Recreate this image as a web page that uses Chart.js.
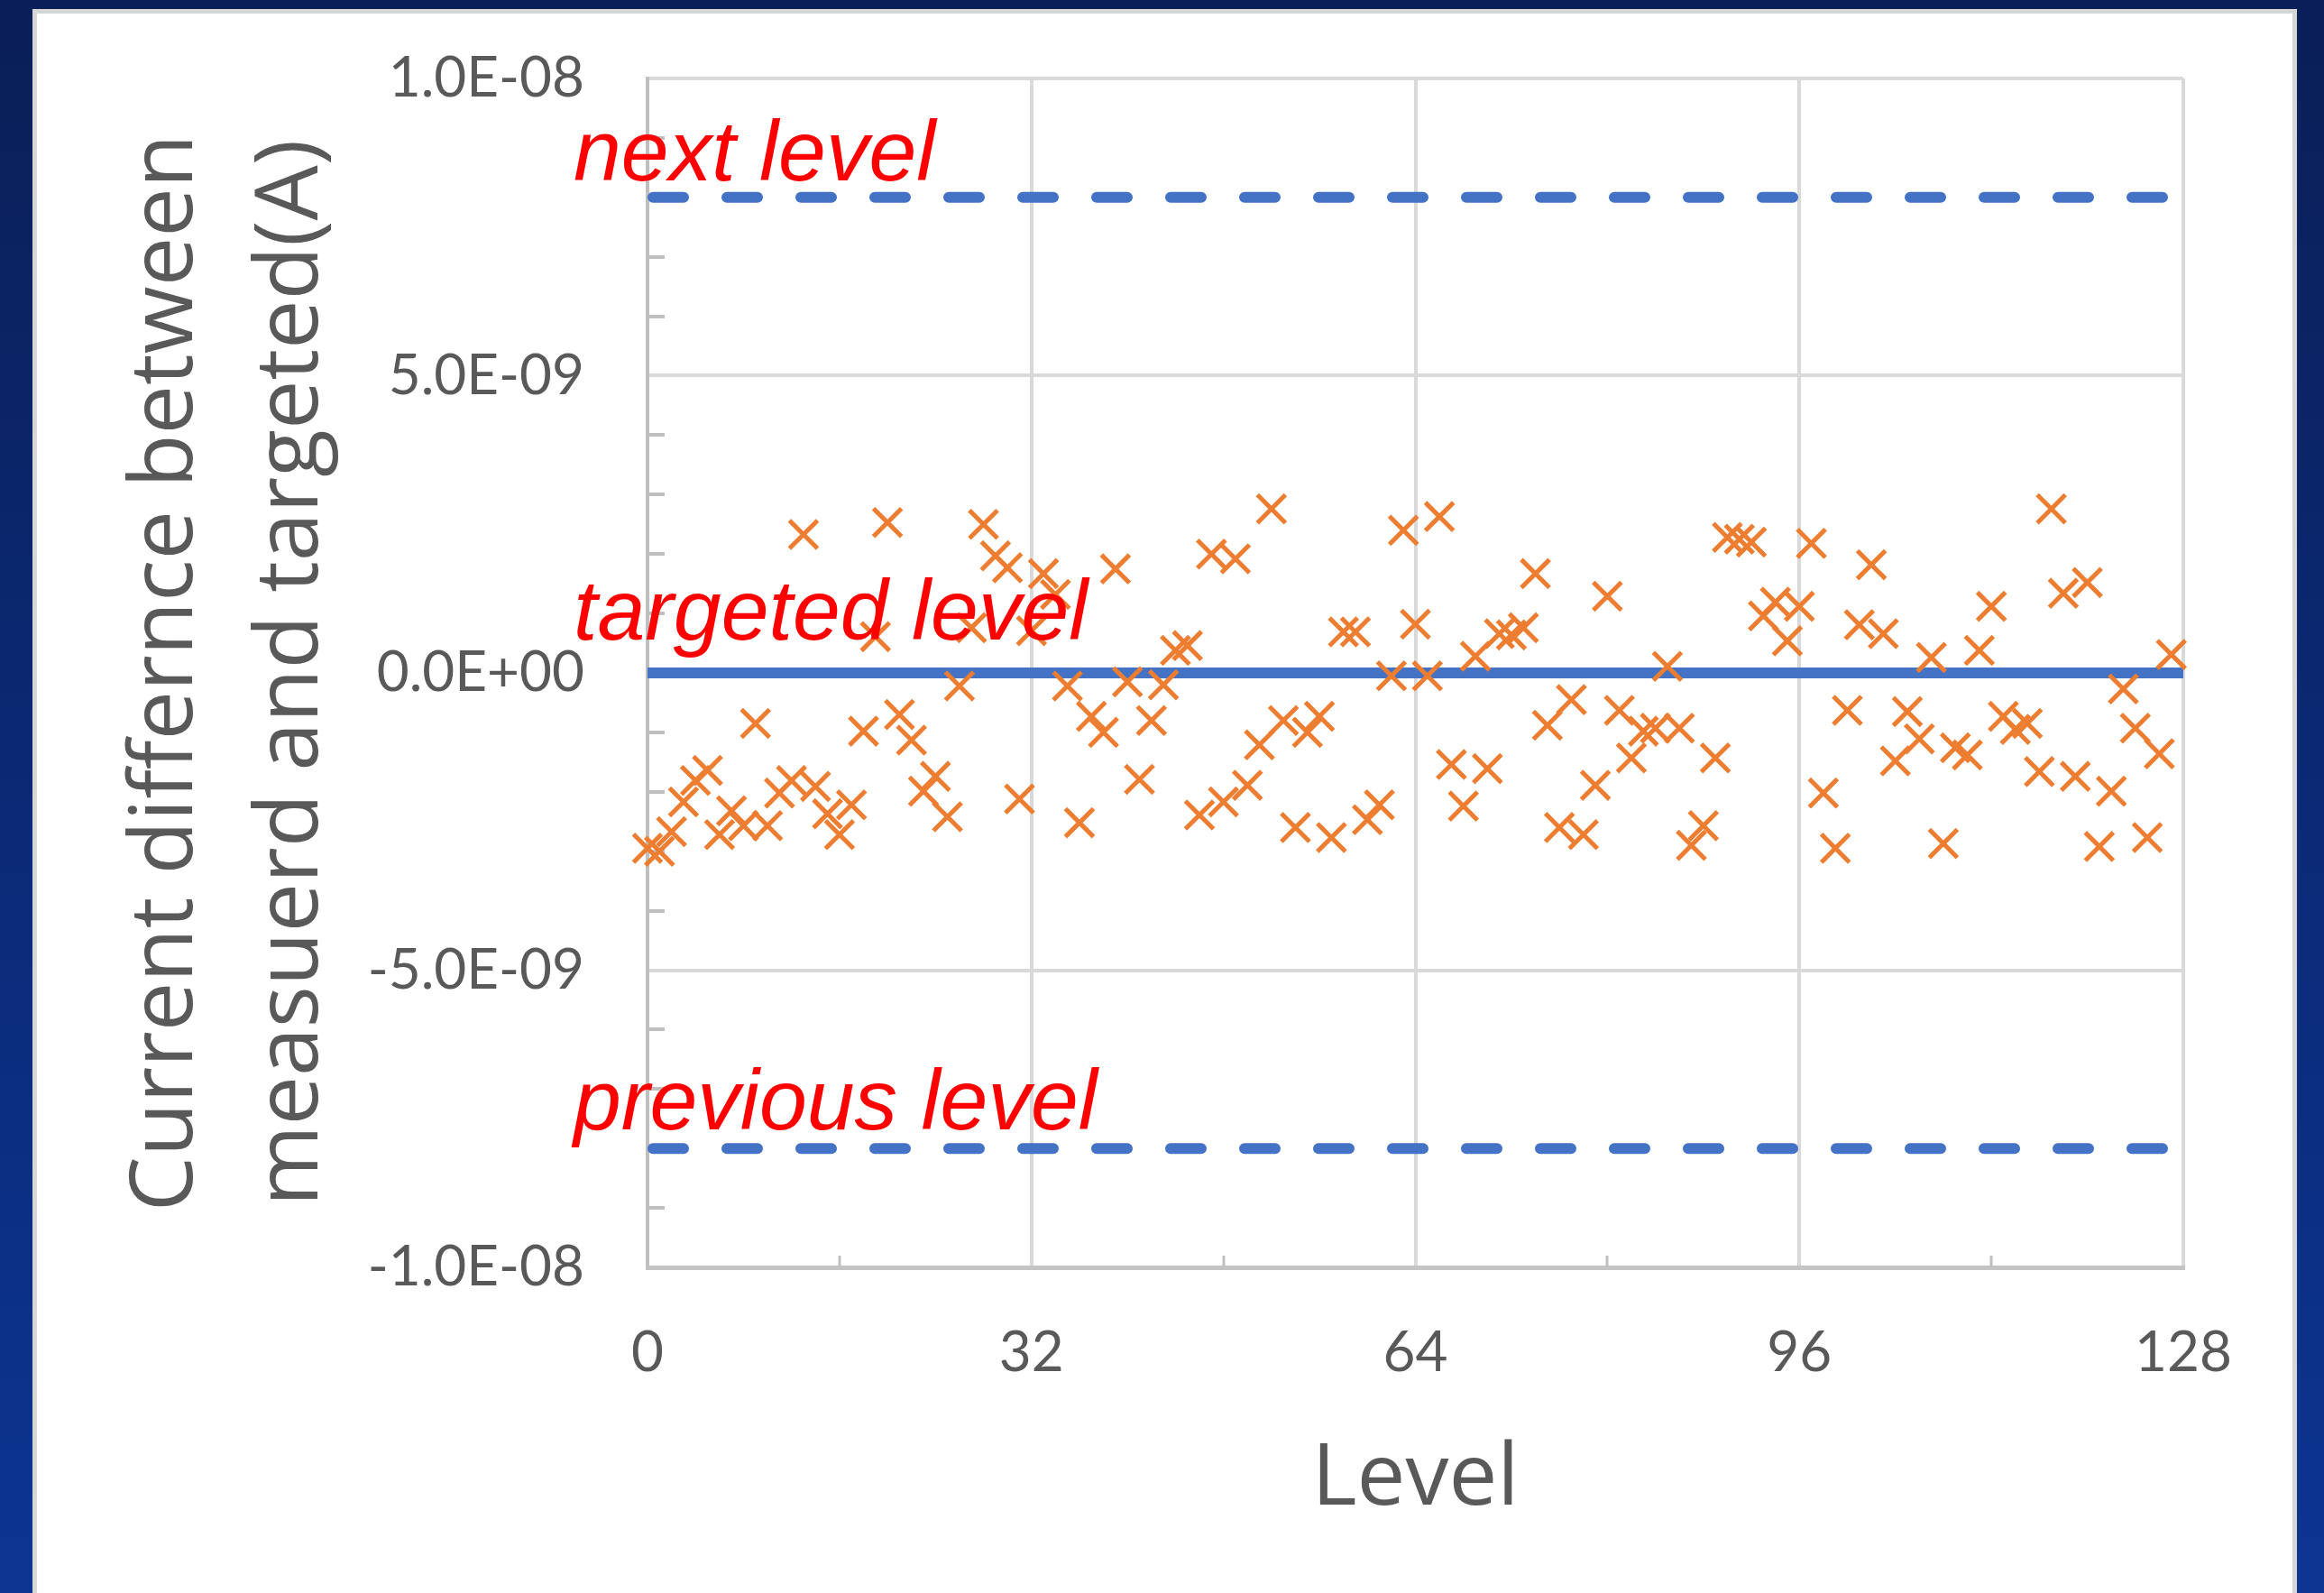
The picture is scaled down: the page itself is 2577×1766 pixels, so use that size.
<!DOCTYPE html>
<html>
<head>
<meta charset="utf-8">
<script src="https://cdn.jsdelivr.net/npm/chart.js@4.4.1/dist/chart.umd.min.js"></script>
<style>
  html, body { margin: 0; padding: 0; }
  body {
    width: 2577px; height: 1766px; overflow: hidden; position: relative;
    background: linear-gradient(180deg, #0a1f57 0%, #0b2a78 55%, #0c3592 100%);
  }
  #panel {
    position: absolute; left: 36px; top: 10px; width: 2511px; height: 1756px;
    background: #fff; box-sizing: border-box;
    border: 5px solid #d6d6d6; border-bottom: none;
  }
  #chart { position: absolute; left: 40px; top: 15px; }
</style>
</head>
<body>
<div id="panel"></div>
<canvas id="chart" width="2501" height="1751"></canvas>
<script>
// levels on the x axis
const levels = [
  0, 1, 2, 3, 4, 5, 6, 7, 8, 9, 10, 11, 12, 13, 14, 15,
  16, 17, 18, 19, 20, 21, 22, 23, 24, 25, 26, 27, 28, 29, 30, 31,
  32, 33, 34, 35, 36, 37, 38, 39, 40, 41, 42, 43, 44, 45, 46, 47,
  48, 49, 50, 51, 52, 53, 54, 55, 56, 57, 58, 59, 60, 61, 62, 63,
  64, 65, 66, 67, 68, 69, 70, 71, 72, 73, 74, 75, 76, 77, 78, 79,
  80, 81, 82, 83, 84, 85, 86, 87, 88, 89, 90, 91, 92, 93, 94, 95,
  96, 97, 98, 99, 100, 101, 102, 103, 104, 105, 106, 107, 108, 109, 110, 111,
  112, 113, 114, 115, 116, 117, 118, 119, 120, 121, 122, 123, 124, 125, 126, 127
];
// measured - targeted, in nA (x1e-9 A)
const currentDiff = [
  -2.95, -3.00, -2.67, -2.17, -1.81, -1.64, -2.72, -2.32, -2.57, -0.85, -2.57, -2.02, -1.81, 2.33, -1.91, -2.37,
  -2.72, -2.22, -0.98, 0.61, 2.53, -0.70, -1.13, -1.99, -1.74, -2.42, -0.22, 0.76, 2.50, 1.97, 1.77, -2.12,
  0.71, 1.67, 1.32, -0.22, -2.52, -0.73, -1.00, 1.75, -0.15, -1.79, -0.80, -0.20, 0.38, 0.46, -2.39, 2.00,
  -2.17, 1.92, -1.89, -1.21, 2.76, -0.80, -2.60, -1.00, -0.73, -2.77, 0.69, 0.69, -2.47, -2.22, -0.05, 2.40,
  0.82, -0.05, 2.63, -1.54, -2.24, 0.28, -1.61, 0.66, 0.64, 0.76, 1.67, -0.88, -2.60, -0.45, -2.72, -1.89,
  1.29, -0.63, -1.43, -0.98, -0.93, 0.11, -0.93, -2.90, -2.57, -1.43, 2.28, 2.25, 2.20, 0.96, 1.19, 0.54,
  1.12, 2.18, -2.02, -2.95, -0.63, 0.81, 1.82, 0.66, -1.48, -0.65, -1.11, 0.26, -2.87, -1.26, -1.38, 0.38,
  1.12, -0.73, -0.95, -0.85, -1.66, 2.76, 1.34, -1.74, 1.52, -2.92, -1.99, -0.27, -0.93, -2.77, -1.36, 0.31
];

// reference lines
const lineX = [0, 128];
const nextLevel = 8e-9;
const targetLevel = 0;
const previousLevel = -8e-9;
const noteTexts = ['next level', 'targeted level', 'previous level'];
const noteValues = [nextLevel, targetLevel, previousLevel];

// axis ticks
const xTickValues = [0, 32, 64, 96, 128];
const xTickLabels = ['0', '32', '64', '96', '128'];
const xMinorTicks = [16, 48, 80, 112];
const yTickValues = [-1e-8, -5e-9, 0, 5e-9, 1e-8];
const yTickLabels = ['-1.0E-08', '-5.0E-09', '0.0E+00', '5.0E-09', '1.0E-08'];
const yMinorTicks = [-9e-9, -8e-9, -7e-9, -6e-9, -4e-9, -3e-9, -2e-9, -1e-9,
                     1e-9, 2e-9, 3e-9, 4e-9, 6e-9, 7e-9, 8e-9, 9e-9];

const points = levels.map((lv, i) => ({ x: lv, y: currentDiff[i] * 1e-9 }));
const hLine = (v) => lineX.map(x => ({ x: x, y: v }));

const BLUE = '#4472C4';
const ORANGE = '#ED7D31';
const GREY_TXT = '#595959';

const markup = {
  id: 'markup',
  beforeDatasetsDraw(chart) {
    const { ctx, chartArea, scales } = chart;
    ctx.save();
    ctx.strokeStyle = '#bfbfbf';
    ctx.lineWidth = 4;
    yMinorTicks.forEach(v => {
      const y = Math.round(scales.y.getPixelForValue(v));
      ctx.beginPath();
      ctx.moveTo(chartArea.left, y);
      ctx.lineTo(chartArea.left + 19, y);
      ctx.stroke();
    });
    ctx.lineWidth = 3;
    xMinorTicks.forEach(v => {
      const x = Math.round(scales.x.getPixelForValue(v));
      ctx.beginPath();
      ctx.moveTo(x, chartArea.bottom);
      ctx.lineTo(x, chartArea.bottom - 13);
      ctx.stroke();
    });
    ctx.restore();
  },
  afterDraw(chart) {
    const { ctx, chartArea, scales } = chart;
    const lift = [19, 37, 21];
    ctx.save();
    ctx.fillStyle = '#FF0000';
    ctx.font = 'italic 95px "Liberation Sans", Arial, sans-serif';
    ctx.textBaseline = 'alphabetic';
    ctx.textAlign = 'left';
    noteTexts.forEach((t, i) => {
      const y = scales.y.getPixelForValue(noteValues[i]) - lift[i];
      ctx.fillText(t, chartArea.left - 82, y);
    });
    ctx.restore();
  }
};

new Chart(document.getElementById('chart').getContext('2d'), {
  type: 'scatter',
  data: {
    datasets: [
      {
        data: points,
        pointStyle: 'crossRot',
        pointRadius: 22,
        pointBorderWidth: 5,
        borderColor: ORANGE,
        backgroundColor: ORANGE,
        clip: false
      },
      {
        type: 'line',
        data: hLine(targetLevel),
        showLine: true,
        borderColor: BLUE,
        borderWidth: 12,
        pointRadius: 0
      },
      {
        type: 'line',
        data: hLine(nextLevel),
        showLine: true,
        borderColor: BLUE,
        borderWidth: 12,
        borderDash: [34, 48],
        borderDashOffset: -6,
        borderCapStyle: 'round',
        pointRadius: 0
      },
      {
        type: 'line',
        data: hLine(previousLevel),
        showLine: true,
        borderColor: BLUE,
        borderWidth: 12,
        borderDash: [34, 48],
        borderDashOffset: -6,
        borderCapStyle: 'round',
        pointRadius: 0
      }
    ]
  },
  options: {
    responsive: false,
    devicePixelRatio: 1,
    animation: false,
    layout: { padding: { top: 72, right: 120, left: 0, bottom: 0 } },
    plugins: { legend: { display: false }, tooltip: { enabled: false } },
    scales: {
      x: {
        type: 'linear',
        min: 0,
        max: 128,
        afterFit(scale) { scale.height = 361; },
        afterBuildTicks(scale) { scale.ticks = xTickValues.map(v => ({ value: v })); },
        grid: { color: '#d9d9d9', lineWidth: 4, drawTicks: false },
        border: { color: '#c4c4c4', width: 5 },
        ticks: {
          padding: 58,
          color: GREY_TXT,
          font: { family: 'Lato', size: 62 },
          maxRotation: 0,
          callback: (v, i) => xTickLabels[i]
        },
        title: {
          display: true,
          text: 'Level',
          color: GREY_TXT,
          font: { family: 'Open Sans', size: 96 },
          padding: { top: 0, bottom: 68 }
        }
      },
      y: {
        min: -1e-8,
        max: 1e-8,
        afterFit(scale) { scale.width = 678; },
        afterBuildTicks(scale) { scale.ticks = yTickValues.map(v => ({ value: v })); },
        grid: { color: '#d9d9d9', lineWidth: 4, drawTicks: true, tickLength: 40, tickColor: 'rgba(0,0,0,0)' },
        border: { color: '#bfbfbf', width: 4 },
        ticks: {
          padding: 30,
          color: GREY_TXT,
          font: { family: 'Lato', size: 62 },
          callback: (v, i) => yTickLabels[i]
        },
        title: {
          display: true,
          text: ['Current differnce between', 'measuerd and targeted(A)'],
          color: GREY_TXT,
          font: { family: 'Open Sans', size: 97, lineHeight: 1.433 },
          padding: { top: 76, bottom: 0 }
        }
      }
    }
  },
  plugins: [markup]
});
</script>
</body>
</html>
